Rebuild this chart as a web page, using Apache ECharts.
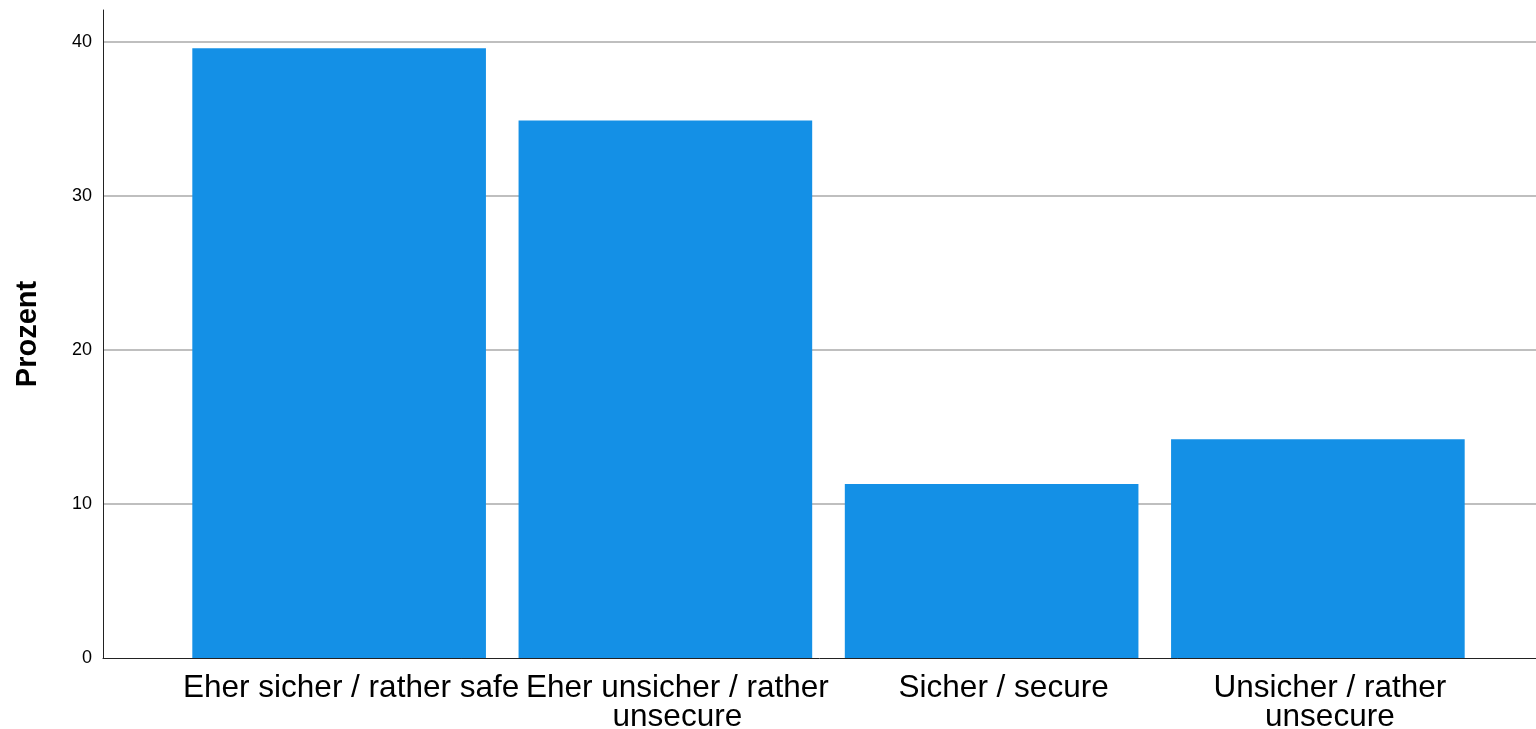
<!DOCTYPE html>
<html>
<head>
<meta charset="utf-8">
<script src="https://cdn.jsdelivr.net/npm/echarts@6/dist/echarts.min.js"></script>
<style>html,body{margin:0;padding:0;background:#fff}#c{width:1536px;height:729px}</style>
</head>
<body>
<div id="c"></div>
<script>
const categories = ["Eher sicher / rather safe", "Eher unsicher / rather\nunsecure", "Sicher / secure", "Unsicher / rather\nunsecure"];
const values = [39.6, 34.9, 11.3, 14.2];
const yAxisName = "Prozent";
const yMin = 0, yMax = 42.08, yInterval = 10;

const chart = echarts.init(document.getElementById('c'));
chart.setOption({
  animation: false,
  grid: [
    {left: 103, right: 0, top: 10, bottom: 71, containLabel: false, outerBoundsMode: 'none'},
    {left: 176, right: 55, top: 10, bottom: 71, containLabel: false, outerBoundsMode: 'none'}
  ],
  xAxis: [
    {gridIndex: 0, type: 'value', min: 0, max: 1, axisLine: {show: true, lineStyle: {color: '#222', width: 1}},
     axisTick: {show: false}, axisLabel: {show: false}, splitLine: {show: false}},
    {gridIndex: 1, type: 'category', data: categories, axisLine: {show: false}, axisTick: {show: false},
     axisLabel: {interval: 0, color: '#000', fontFamily: 'Liberation Sans, Arial, sans-serif', fontSize: 31.5, lineHeight: 29, margin: 16, padding: [0, 0, 0, 24]}}
  ],
  yAxis: [
    {gridIndex: 0, type: 'value', min: yMin, max: yMax, interval: yInterval,
     name: yAxisName, nameLocation: 'middle', nameGap: 61, nameRotate: 90,
     nameTextStyle: {color: '#000', fontFamily: 'Liberation Sans, Arial, sans-serif', fontSize: 29, fontWeight: 'bold'},
     axisLine: {show: true, lineStyle: {color: '#222', width: 1}}, axisTick: {show: false},
     axisLabel: {color: '#000', fontFamily: 'Liberation Sans, Arial, sans-serif', fontSize: 18, margin: 11, showMaxLabel: false},
     splitLine: {show: true, showMinLine: false, showMaxLine: false, lineStyle: {color: '#aaaaaa', width: 1.5}}},
    {gridIndex: 1, type: 'value', min: yMin, max: yMax, interval: yInterval, show: false, splitLine: {show: false}}
  ],
  series: [{
    type: 'bar', xAxisIndex: 1, yAxisIndex: 1, data: values, barWidth: '90%',
    itemStyle: {color: '#1490E6'}
  }]
});
</script>
</body>
</html>
